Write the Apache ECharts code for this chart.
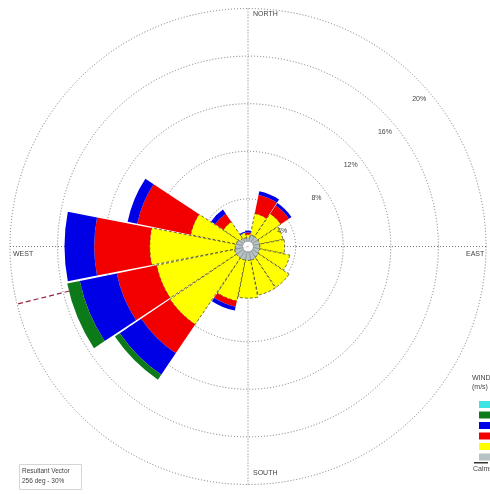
<!DOCTYPE html>
<html>
<head>
<meta charset="utf-8">
<script src="https://cdn.jsdelivr.net/npm/echarts@6/dist/echarts.min.js"></script>
<style>
  html, body { margin: 0; padding: 0; background: #ffffff; }
  #rose { width: 490px; height: 494px; }
</style>
</head>
<body>
<div id="rose"></div>
<script>
// Wind directions (blowing from), clockwise from north
const directions = ['N', 'NNE', 'NE', 'ENE', 'E', 'ESE', 'SE', 'SSE', 'S', 'SSW', 'SW', 'WSW', 'W', 'WNW', 'NW', 'NNW'];

// Frequency (%) of each wind speed class per direction, innermost class first
const calmCore  = [0.45, 0.45, 0.45, 0.45, 0.45, 0.45, 0.45, 0.45, 0.45, 0.45, 0.45, 0.45, 0.45, 0.45, 0.45, 0.45];
const speed0521 = [0.30, 0.55, 0.55, 0.55, 0.55, 0.55, 0.63, 0.72, 0.72, 0.72, 0.72, 0.72, 0.63, 0.55, 0.38, 0.30];
const speed2136 = [0.25, 1.83, 2.33, 2.00, 2.08, 2.58, 3.08, 3.00, 3.17, 3.50, 6.75, 6.67, 7.17, 3.92, 1.67, 0.42];
const speed3657 = [0.17, 1.58, 0.83, 0.00, 0.00, 0.00, 0.00, 0.00, 0.00, 0.50, 2.92, 3.42, 4.67, 4.58, 0.83, 0.00];
const speed5788 = [0.17, 0.33, 0.25, 0.00, 0.00, 0.00, 0.00, 0.00, 0.00, 0.33, 2.17, 3.17, 2.50, 0.83, 0.42, 0.10];
const speed8811 = [0.00, 0.00, 0.00, 0.00, 0.00, 0.00, 0.00, 0.00, 0.00, 0.00, 0.50, 1.08, 0.00, 0.00, 0.00, 0.00];
const speed111  = [0.00, 0.00, 0.00, 0.00, 0.00, 0.00, 0.00, 0.00, 0.00, 0.00, 0.00, 0.00, 0.00, 0.00, 0.00, 0.00];

// Ring scale (%)
const ringMax = 20;
const ringStep = 4;

// Resultant vector
const resultantDir = 256;
const resultantLabel = ['Resultant Vector', '256 deg - 30%'];
const calmsLabel = 'Calms: 2.75%';

const classNames = ['0.50 - 2.10', '2.10 - 3.60', '3.60 - 5.70', '5.70 - 8.80', '8.80 - 11.10', '>= 11.10'];
const classData = [speed0521, speed2136, speed3657, speed5788, speed8811, speed111];
const classColors = ['#b7c2c4', '#ffff00', '#f20000', '#0000e6', '#0d7a1a', '#3ee3e3'];

const CENTER = [248, 246.5];
const RADIUS = 238;
const FONT = 'Liberation Sans, Arial, sans-serif';

const chart = echarts.init(document.getElementById('rose'), null, { renderer: 'canvas' });

const series = [];
series.push({
  type: 'bar', name: 'calm', coordinateSystem: 'polar', polarIndex: 0, stack: 'rose',
  data: calmCore, barCategoryGap: '3%', silent: true, z: 3,
  itemStyle: { color: '#ffffff' }
});
classNames.forEach((name, i) => {
  const style = { color: classColors[i] };
  if (i === 0) { style.borderColor = '#7d888b'; style.borderWidth = 0.6; }
  if (i === 1) { style.borderColor = '#4d4d14'; style.borderWidth = 0.8; style.borderType = [3, 2]; }
  series.push({
    type: 'bar', name: name, coordinateSystem: 'polar', polarIndex: 0, stack: 'rose',
    data: classData[i], barCategoryGap: '3%', silent: true, z: 3,
    itemStyle: style
  });
});
// Resultant vector, drawn under the petals
series.push({
  type: 'line', name: 'resultant', coordinateSystem: 'polar', polarIndex: 1,
  data: [[0, resultantDir], [ringMax * 1.12, resultantDir]],
  symbol: 'none', clip: false, silent: true, z: 1,
  lineStyle: { color: '#9c1f3c', width: 1.2, type: [5, 3] }
});

const hiddenAxis = { axisLine: { show: false }, axisTick: { show: false }, axisLabel: { show: false }, splitLine: { show: false } };

chart.setOption({
  animation: false,
  backgroundColor: '#ffffff',
  polar: [
    { center: CENTER, radius: RADIUS },
    { center: CENTER, radius: RADIUS },
    { center: CENTER, radius: RADIUS }
  ],
  angleAxis: [
    Object.assign({ polarIndex: 0, type: 'category', data: directions, startAngle: 90 + 11.25, clockwise: true, boundaryGap: true }, hiddenAxis),
    Object.assign({}, hiddenAxis, {
      polarIndex: 1, type: 'value', min: 0, max: 360, interval: 90, startAngle: 90, clockwise: true,
      splitLine: { show: true, lineStyle: { color: '#777', width: 1, type: [1, 2] } }
    }),
    Object.assign({ polarIndex: 2, type: 'value', min: 0, max: 360, startAngle: 44, clockwise: true }, hiddenAxis)
  ],
  radiusAxis: [
    Object.assign({}, hiddenAxis, {
      polarIndex: 0, type: 'value', min: 0, max: ringMax, interval: ringStep,
      splitLine: { show: true, lineStyle: { color: '#777', width: 1, type: [1, 2] } }
    }),
    Object.assign({ polarIndex: 1, type: 'value', min: 0, max: ringMax, interval: ringStep }, hiddenAxis),
    Object.assign({}, hiddenAxis, {
      polarIndex: 2, type: 'value', min: 0, max: ringMax, interval: ringStep, zlevel: 1,
      axisLabel: {
        show: true, fontFamily: FONT, fontSize: 7, color: '#444',
        margin: 0, align: 'center', verticalAlign: 'top', lineHeight: 12,
        formatter: v => (v === 0 ? '' : '\n' + v + '%')
      }
    })
  ],
  legend: {
    orient: 'vertical', left: 474, top: 396, itemWidth: 14, itemHeight: 7, itemGap: 3.5,
    icon: 'rect', selectedMode: false,
    itemStyle: { borderWidth: 0 },
    textStyle: { fontFamily: FONT, fontSize: 7, color: '#333' },
    data: classNames.slice().reverse()
  },
  graphic: [
    { type: 'text', left: 253, top: 11, style: { text: 'NORTH', font: '7px ' + FONT, fill: '#444' } },
    { type: 'text', left: 253, top: 470, style: { text: 'SOUTH', font: '7px ' + FONT, fill: '#444' } },
    { type: 'text', left: 13, top: 251, style: { text: 'WEST', font: '7px ' + FONT, fill: '#444' } },
    { type: 'text', left: 466, top: 251, style: { text: 'EAST', font: '7px ' + FONT, fill: '#444' } },
    { type: 'text', left: 472, top: 374, style: { text: 'WIND SPEED\n(m/s)', font: '7px ' + FONT, fill: '#444', lineHeight: 9 } },
    { type: 'rect', left: 474, top: 462, shape: { width: 14, height: 1.5 }, style: { fill: '#2f3b2f' } },
    { type: 'text', left: 473, top: 466, style: { text: calmsLabel, font: '7px ' + FONT, fill: '#444' } },
    { type: 'rect', left: 17, top: 462, shape: { width: 62, height: 25 }, style: { fill: 'none', stroke: '#d6d6d6', lineWidth: 1 } },
    { type: 'text', left: 22, top: 466, style: { text: resultantLabel.join('\n'), font: '6.5px ' + FONT, fill: '#444', lineHeight: 10 } }
  ],
  series: series
});
</script>
</body>
</html>
